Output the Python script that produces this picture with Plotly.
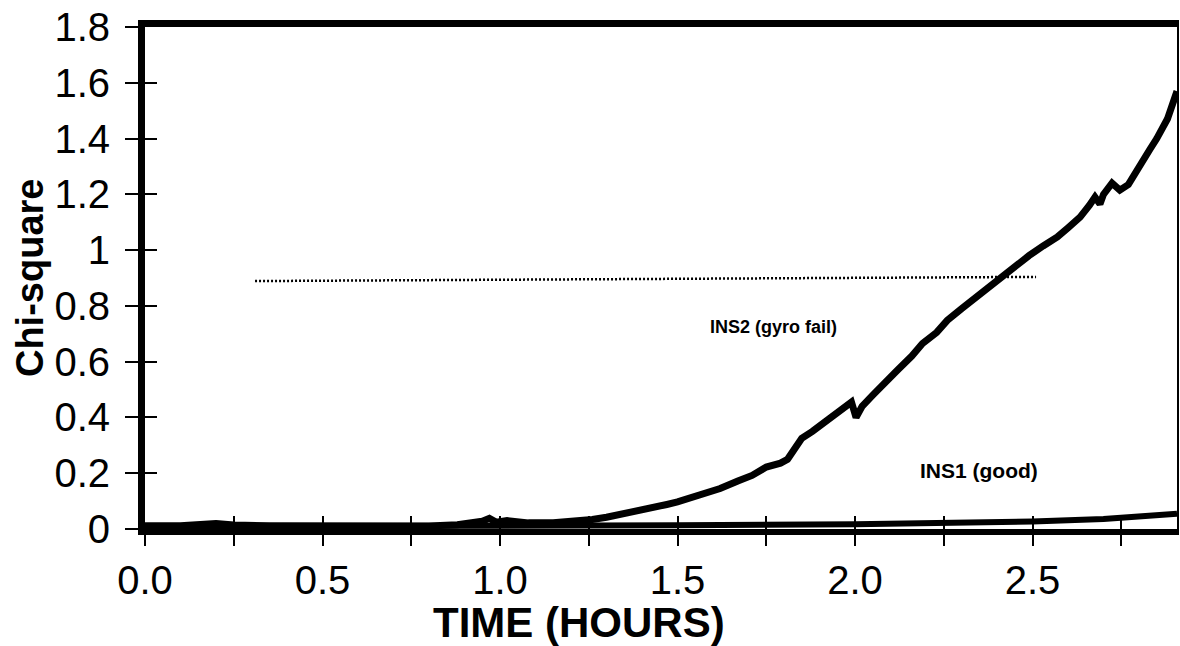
import plotly.graph_objects as go

# ---- data ----
ins2_t = [0.0, 0.1, 0.2, 0.25, 0.35, 0.5, 0.65, 0.8, 0.88, 0.92, 0.95, 0.97, 0.99, 1.02,
          1.08, 1.15, 1.22, 1.26, 1.30, 1.34, 1.38, 1.43, 1.47, 1.50, 1.54, 1.58, 1.62,
          1.67, 1.71, 1.75, 1.79, 1.81, 1.83, 1.85, 1.88, 1.92, 1.95, 1.99, 2.003, 2.02,
          2.05, 2.08, 2.12, 2.16, 2.19, 2.23, 2.26, 2.30, 2.33, 2.37, 2.41, 2.45, 2.49,
          2.53, 2.57, 2.60, 2.634, 2.66, 2.676, 2.69, 2.70, 2.724, 2.746, 2.77, 2.79,
          2.81, 2.83, 2.85, 2.88, 2.907]
ins2_chi = [0.012, 0.012, 0.02, 0.014, 0.012, 0.011, 0.01, 0.011, 0.015, 0.022, 0.028,
            0.038, 0.024, 0.03, 0.022, 0.022, 0.026, 0.034, 0.042, 0.052, 0.06, 0.078,
            0.088, 0.097, 0.112, 0.132, 0.145, 0.172, 0.192, 0.222, 0.236, 0.25, 0.29,
            0.325, 0.35, 0.39, 0.42, 0.455, 0.40, 0.44, 0.48, 0.515, 0.57, 0.62, 0.665,
            0.705, 0.748, 0.79, 0.82, 0.86, 0.903, 0.942, 0.98, 1.015, 1.047, 1.08, 1.118,
            1.16, 1.19, 1.165, 1.20, 1.24, 1.215, 1.235, 1.28, 1.32, 1.36, 1.40, 1.47, 1.57]

ins1_t = [0.0, 0.5, 1.0, 1.5, 2.0, 2.3, 2.5, 2.7, 2.8, 2.907]
ins1_chi = [0.01, 0.01, 0.011, 0.013, 0.017, 0.022, 0.027, 0.036, 0.044, 0.055]

threshold_t = [0.31, 2.51]
threshold_chi = [0.889, 0.904]

x_tickvals = [0.0, 0.25, 0.5, 0.75, 1.0, 1.25, 1.5, 1.75, 2.0, 2.25, 2.5, 2.75]
x_ticktext = ["0.0", "", "0.5", "", "1.0", "", "1.5", "", "2.0", "", "2.5", ""]
y_tickvals = [0, 0.2, 0.4, 0.6, 0.8, 1.0, 1.2, 1.4, 1.6, 1.8]
y_ticktext = ["0", "0.2", "0.4", "0.6", "0.8", "1", "1.2", "1.4", "1.6", "1.8"]

x_range = [0, 2.907]
y_range = [0, 1.8]

FONT = "Liberation Sans, Arial, sans-serif"

fig = go.Figure()
fig.add_trace(go.Scatter(x=threshold_t, y=threshold_chi, mode="lines",
                         line=dict(color="black", width=2.5, dash="2px,2px"),
                         showlegend=False, hoverinfo="skip"))
fig.add_trace(go.Scatter(x=ins1_t, y=ins1_chi, mode="lines",
                         line=dict(color="black", width=6), showlegend=False))
fig.add_trace(go.Scatter(x=ins2_t, y=ins2_chi, mode="lines",
                         line=dict(color="black", width=7), showlegend=False))

tickfont = dict(family=FONT, size=40, color="black")

fig.update_layout(
    width=1180, height=646,
    margin=dict(l=145, r=3, t=27, b=117),
    paper_bgcolor="white", plot_bgcolor="white",
    xaxis=dict(range=x_range, showgrid=False, zeroline=False, automargin=False,
               showline=True, linecolor="black", linewidth=6,
               ticks="outside", ticklen=11, tickwidth=2, tickcolor="black",
               tickvals=x_tickvals, ticktext=x_ticktext, tickfont=tickfont,
               ticklabelstandoff=0),
    xaxis2=dict(range=x_range, overlaying="x", side="top", anchor="y", automargin=False,
                showgrid=False, zeroline=False, showline=True, linecolor="black",
                linewidth=7, ticks="", showticklabels=False),
    xaxis3=dict(range=x_range, overlaying="x", side="bottom", anchor="y", automargin=False,
                showgrid=False, zeroline=False, showline=False,
                ticks="inside", ticklen=13, tickwidth=2, tickcolor="black",
                tickvals=x_tickvals, showticklabels=False),
    yaxis=dict(range=y_range, showgrid=False, zeroline=False, automargin=False,
               showline=True, linecolor="black", linewidth=7,
               ticks="outside", ticklen=13, tickwidth=2, tickcolor="black",
               tickvals=y_tickvals, ticktext=y_ticktext, tickfont=tickfont,
               ticklabelstandoff=7),
    yaxis2=dict(range=y_range, overlaying="y", side="right", anchor="x", automargin=False,
                showgrid=False, zeroline=False, showline=True, linecolor="black",
                linewidth=2, ticks="", showticklabels=False),
    yaxis3=dict(range=y_range, overlaying="y", side="left", anchor="x", automargin=False,
                showgrid=False, zeroline=False, showline=False,
                ticks="inside", ticklen=12, tickwidth=2, tickcolor="black",
                tickvals=y_tickvals, showticklabels=False),
)

# invisible traces to activate overlay axes
for xa, ya in [("x2", "y"), ("x3", "y"), ("x", "y2"), ("x", "y3")]:
    fig.add_trace(go.Scatter(x=[None], y=[None], xaxis=xa, yaxis=ya,
                             showlegend=False, hoverinfo="skip"))

fig.add_annotation(text="<b>INS2 (gyro fail)</b>", x=1.77, y=0.726, xref="x", yref="y",
                   showarrow=False, font=dict(family=FONT, size=18, color="black"))
fig.add_annotation(text="<b>INS1 (good)</b>", x=2.35, y=0.21, xref="x", yref="y",
                   showarrow=False, font=dict(family=FONT, size=21, color="black"))
fig.add_annotation(text="<b>TIME (HOURS)</b>", x=0.4205, y=-0.186, xref="paper", yref="paper",
                   xanchor="center", yanchor="middle", showarrow=False,
                   font=dict(family=FONT, size=42, color="black"))
fig.add_annotation(text="<b>Chi-square</b>", x=-0.1114, y=0.5, xref="paper", yref="paper",
                   xanchor="center", yanchor="middle", textangle=-90, showarrow=False,
                   font=dict(family=FONT, size=38, color="black"))

fig.write_html("out.html", config={"displayModeBar": False},
               post_script="document.body.style.margin='0';")
